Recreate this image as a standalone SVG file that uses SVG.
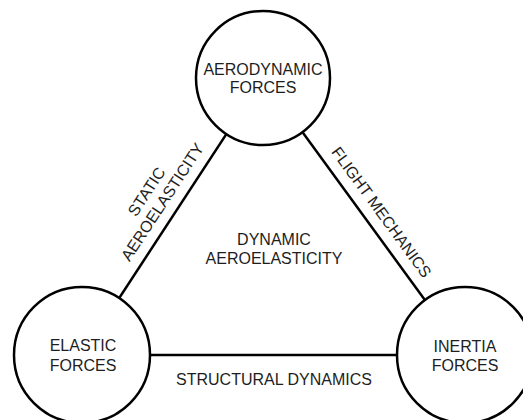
<svg xmlns="http://www.w3.org/2000/svg" width="523" height="420" viewBox="0 0 523 420">
  <style>
    .edge { stroke: #000; stroke-width: 2.5; fill: none; }
    .node circle { fill: #fff; stroke: #000; stroke-width: 2.5; }
    text { font-family: "Liberation Sans", Arial, Helvetica, sans-serif; font-size: 16px; fill: #1e1e1e; text-anchor: middle; }
  </style>
  <rect width="523" height="420" fill="#fff"/>

  <!-- connectors between force circles -->
  <g id="connectors">
    <line class="edge" x1="263" y1="78" x2="82" y2="355"/>
    <line class="edge" x1="263" y1="78" x2="465" y2="355"/>
    <line class="edge" x1="82" y1="355" x2="465" y2="355"/>
  </g>

  <!-- edge labels -->
  <g id="labels">
    <g transform="translate(167,205) rotate(-56.8)">
      <text x="0" y="-19">STATIC</text>
      <text x="0" y="0">AEROELASTICITY</text>
    </g>
    <g transform="translate(377,215.5) rotate(53.9)">
      <text x="0" y="0">FLIGHT MECHANICS</text>
    </g>
    <text x="274" y="385">STRUCTURAL DYNAMICS</text>
    <text x="274" y="245">DYNAMIC</text>
    <text x="274" y="264">AEROELASTICITY</text>
  </g>

  <g id="aerodynamic" class="node">
    <circle cx="263" cy="78" r="67"/>
    <text x="263" y="75">AERODYNAMIC</text>
    <text x="263" y="93">FORCES</text>
  </g>

  <g id="elastic" class="node">
    <circle cx="82" cy="355" r="68"/>
    <text x="83" y="351">ELASTIC</text>
    <text x="83" y="371">FORCES</text>
  </g>

  <g id="inertia" class="node">
    <circle cx="465" cy="355" r="68"/>
    <text x="465" y="352">INERTIA</text>
    <text x="465" y="371">FORCES</text>
  </g>
</svg>
